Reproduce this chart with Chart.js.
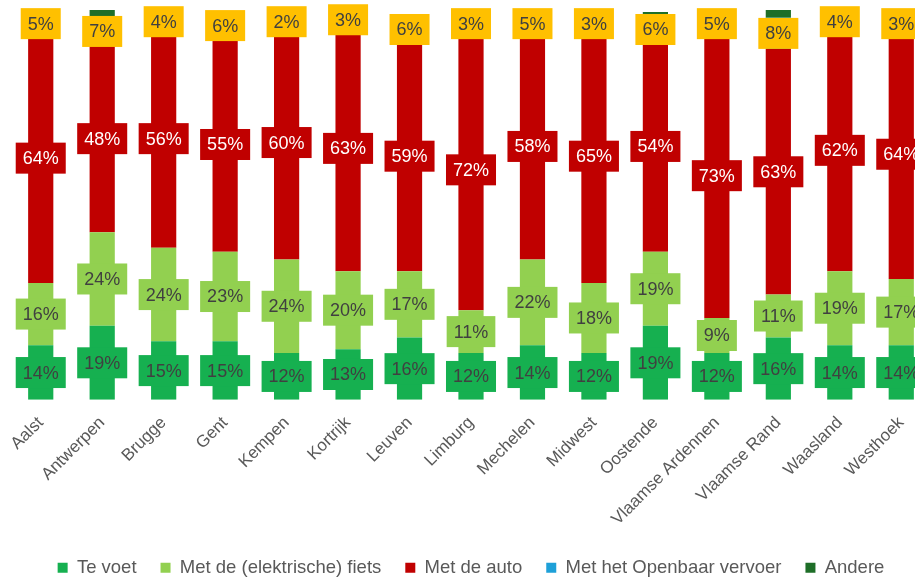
<!DOCTYPE html>
<html>
<head>
<meta charset="utf-8">
<script src="https://cdn.jsdelivr.net/npm/chart.js@4"></script>
<style>
  html, body { margin: 0; padding: 0; background: #fff; overflow: hidden; }
  #wrap { width: 942px; height: 587px; }
</style>
</head>
<body>
<div id="wrap"><canvas id="chart" width="942" height="587"></canvas></div>
<script>
const regios = ["Aalst", "Antwerpen", "Brugge", "Gent", "Kempen", "Kortrijk", "Leuven", "Limburg",
  "Mechelen", "Midwest", "Oostende", "Vlaamse Ardennen", "Vlaamse Rand", "Waasland", "Westhoek"];

const teVoet   = [14, 19, 15, 15, 12, 13, 16, 12, 14, 12, 19, 12, 16, 14, 14];
const fiets    = [16, 24, 24, 23, 24, 20, 17, 11, 22, 18, 19,  9, 11, 19, 17];
const auto     = [64, 48, 56, 55, 60, 63, 59, 72, 58, 65, 54, 73, 63, 62, 64];
const openbaar = [ 5,  7,  4,  6,  2,  3,  6,  3,  5,  3,  6,  5,  8,  4,  3];
const andere   = [ 0,  2,  0, 0.3, 0,  0, 0.3, 0,  0,  0, 1.5, 0,  2,  0,  0];

// kleur van het label-kader per reeks (Andere krijgt geen label)
const labelFill = ["#16b050", "#92d050", "#c00000", "#ffc000"];
const labelText = ["#404040", "#404040", "#ffffff", "#404040"];

const boxLabels = {
  id: 'boxLabels',
  afterDatasetsDraw(chart) {
    const ctx = chart.ctx;
    ctx.save();
    ctx.font = '18px "Liberation Sans", Arial, sans-serif';
    ctx.textAlign = 'center';
    ctx.textBaseline = 'middle';
    for (let d = 0; d < 4; d++) {
      const meta = chart.getDatasetMeta(d);
      meta.data.forEach((bar, i) => {
        const v = chart.data.datasets[d].data[i];
        if (!v) return;
        const txt = Math.round(v) + '%';
        const cy = (bar.y + bar.base) / 2;
        const w = ctx.measureText(txt).width + 14;
        const h = 31;
        ctx.fillStyle = labelFill[d];
        ctx.fillRect(bar.x - w / 2, cy - h / 2, w, h);
        ctx.fillStyle = labelText[d];
        ctx.fillText(txt, bar.x, cy + 1);
      });
    }
    ctx.restore();
  }
};

new Chart(document.getElementById('chart'), {
  type: 'bar',
  data: {
    labels: regios,
    datasets: [
      { label: 'Te voet', data: teVoet, backgroundColor: '#16b050' },
      { label: 'Met de (elektrische) fiets', data: fiets, backgroundColor: '#92d050' },
      { label: 'Met de auto', data: auto, backgroundColor: '#c00000' },
      { label: 'Met het Openbaar vervoer', data: openbaar, backgroundColor: '#1ea0d8' },
      { label: 'Andere', data: andere, backgroundColor: '#1e6e28' }
    ]
  },
  options: {
    responsive: false,
    animation: false,
    layout: { padding: { top: 10, left: 10, right: 10, bottom: 0 } },
    datasets: { bar: { barPercentage: 0.41, categoryPercentage: 1 } },
    scales: {
      x: {
        stacked: true,
        grid: { display: false },
        border: { display: false },
        ticks: {
          color: '#595959',
          font: { family: '"Liberation Sans", Arial, sans-serif', size: 17 },
          minRotation: 45, maxRotation: 45, padding: 5
        }
      },
      y: { stacked: true, display: false, min: 0, max: 100 }
    },
    plugins: {
      legend: {
        position: 'bottom',
        labels: {
          color: '#595959',
          boxWidth: 10, boxHeight: 10,
          padding: 24,
          font: { family: '"Liberation Sans", Arial, sans-serif', size: 18.5 }
        }
      },
      tooltip: { enabled: false }
    }
  },
  plugins: [boxLabels]
});
</script>
</body>
</html>
